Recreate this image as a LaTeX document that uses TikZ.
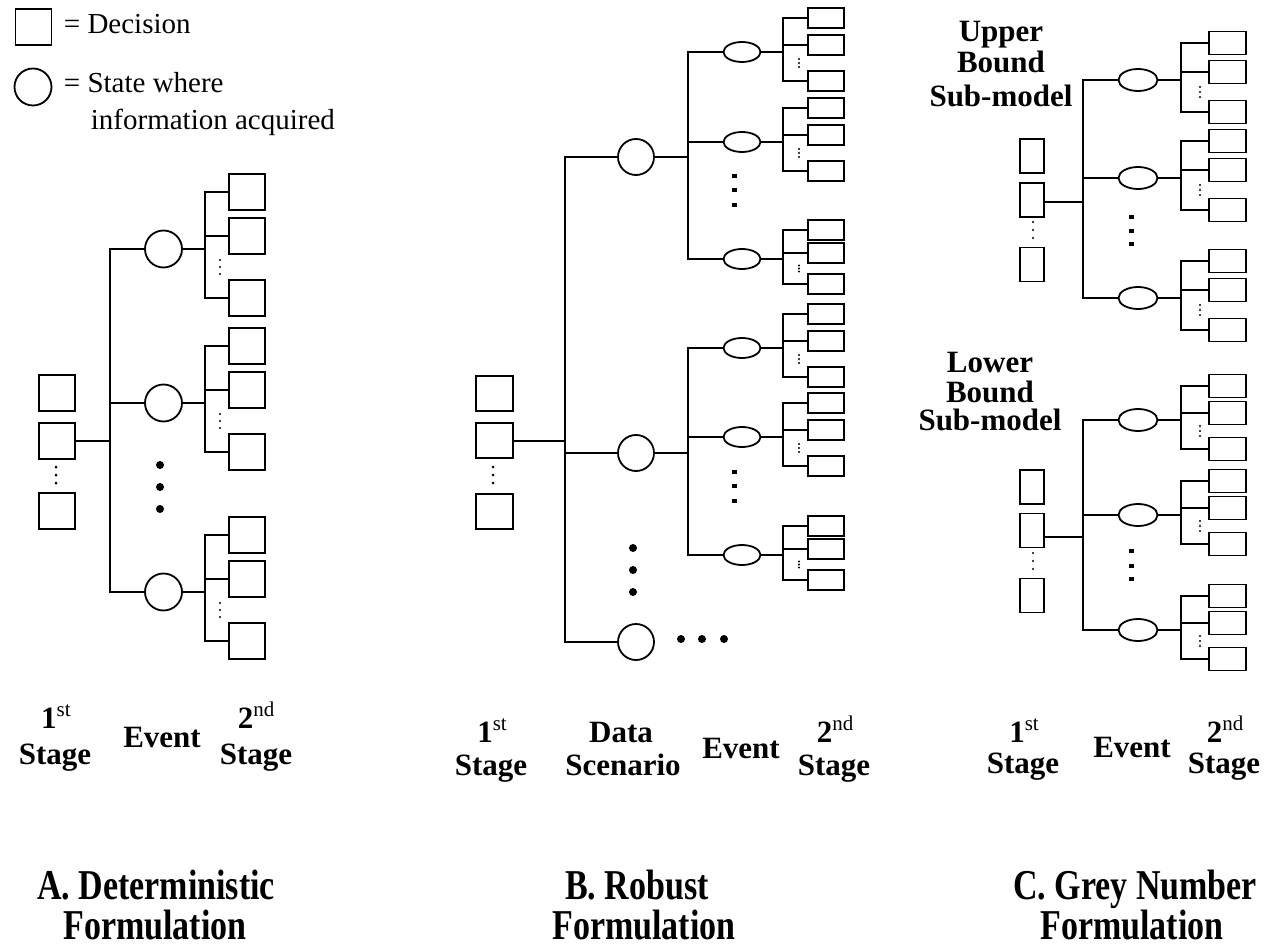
\documentclass[tikz,border=0pt]{standalone}
\usepackage{fontspec}
\setmainfont{Liberation Serif}
\usepackage{tikz}
\usetikzlibrary{calc}
\usetikzlibrary{positioning,shapes.geometric}

% event node, its bus and three 2nd stage decisions
% #1 name, #2 event style, #3 x, #4 y, #5 bus x, #6 leaf x, #7 leaf style, #8 spread, #9 dot step
\newcommand{\EventGroup}[9]{%
\node[#2] (#1) at (#3,#4) {};
\coordinate (#1-bus) at (#5,#4);
\node[#7] (#1-1) at (#6,#4-#8) {};
\node[#7] (#1-2) at (#6,{#4-round(0.22*#8)}) {};
\node[#7] (#1-3) at (#6,{#4+round(0.86*#8)}) {};
\draw (#1) -- (#1-bus);
\draw (#1-1.west) -| (#1-bus) |- (#1-3.west);
\draw (#1-2.west) -- (#1-2.west -| #1-bus);
\path (#1-2.south west) -- (#1-3.north west) coordinate[pos=.5] (#1-d);
\fill ($(#1-d)+(-8,-#9)$) circle (1.2) ($(#1-d)+(-8,0)$) circle (1.2) ($(#1-d)+(-8,#9)$) circle (1.2);
}
\newcommand{\DotCol}[4]{\fill (#1,#2-#3) circle (#4) (#1,#2) circle (#4) (#1,#2+#3) circle (#4)}
\newcommand{\SqDot}[2]{\fill (#1-2.5,#2-2) rectangle (#1+2.5,#2+2)}
\newcommand{\StageSup}[1]{\raisebox{0.36em}{\fontsize{21}{21}\selectfont\mdseries #1}}
\newcommand{\Tall}[1]{\scalebox{1}[1.25]{#1}}

\begin{document}
\begin{tikzpicture}[
x=1pt,y=-1pt,
line width=1.8pt,
MyBoxA/.style={draw,inner sep=0pt,minimum width=36pt,minimum height=36pt},
LeafA/.style={MyBoxA,anchor=west},
MyCircle/.style={draw,circle,inner sep=0pt,minimum size=37pt},
LeafB/.style={draw,inner sep=0pt,minimum width=36pt,minimum height=19.5pt,anchor=west},
MyOvalB/.style={draw,ellipse,inner sep=0pt,minimum width=37pt,minimum height=20pt},
FirstC/.style={draw,inner sep=0pt,minimum width=24pt,minimum height=34pt},
LeafC/.style={draw,inner sep=0pt,minimum width=37pt,minimum height=23pt,anchor=west},
MyOvalC/.style={draw,ellipse,inner sep=0pt,minimum width=39pt,minimum height=22pt},
LegendText/.style={font=\fontsize{29}{32}\selectfont,anchor=base west,inner sep=0pt},
StageText/.style={font=\fontsize{31}{36}\selectfont\bfseries,anchor=base,inner sep=0pt},
TitleText/.style={font=\fontsize{34}{40}\selectfont\bfseries,anchor=base,inner sep=0pt}
]
\useasboundingbox (0,0) rectangle (1268,949);

% bus positions of the three panels
\pgfmathparse{110}  \let\XbusA\pgfmathresult
\pgfmathparse{565}  \let\XbusB\pgfmathresult
\pgfmathparse{1083} \let\XbusC\pgfmathresult

% legend
\node[MyBoxA] (legBox) at (33.5,27) {};
\node[LegendText] (legDec) at (63,34) {= Decision};
\node[MyCircle] (legCirc) at (33,87) {};
\node[LegendText] (legState) at (63,93) {= State where};
\node[LegendText] (legInfo) at (90,130) {information acquired};

%%% A. deterministic
\node[MyBoxA] (A-s1) at (57,393) {};
\node[MyBoxA] (A-s2) at (57,441) {};
\node[MyBoxA] (A-s3) at (57,511) {};
\DotCol{56}{475}{8}{1.5};
\coordinate (A-bus) at (\XbusA,441);

\EventGroup{A-e1}{MyCircle}{163.5}{249}{205}{228}{LeafA}{57}{7}
\EventGroup{A-e2}{MyCircle}{163.5}{403}{205}{228}{LeafA}{57}{7}
\EventGroup{A-e3}{MyCircle}{163.5}{592}{205}{228}{LeafA}{57}{7}

\draw (A-s2.east |- A-bus) -- (A-bus);
\draw (A-e1) -| (A-bus) |- (A-e3);
\draw (A-e2) -- (A-e2 -| A-bus);
\DotCol{160}{487}{22}{4};

%%% B. robust
\node[MyBoxA,minimum width=37pt,minimum height=35pt] (B-s1) at (494.5,393.5) {};
\node[MyBoxA,minimum width=37pt,minimum height=35pt] (B-s2) at (494.5,440.5) {};
\node[MyBoxA,minimum width=37pt,minimum height=35pt] (B-s3) at (494.5,511.5) {};
\DotCol{493}{475}{8}{1.5};
\coordinate (B-bus) at (\XbusB,441);

% data scenarios
\node[MyCircle,minimum size=36pt] (B-d1) at (636,157) {};
\node[MyCircle,minimum size=36pt] (B-d2) at (636,453) {};
\node[MyCircle,minimum size=36pt] (B-d3) at (636,642) {};
\draw (B-s2.east |- B-bus) -- (B-bus);
\draw (B-d1) -| (B-bus) |- (B-d3);
\draw (B-d2) -- (B-d2 -| B-bus);
\DotCol{633}{570}{22}{4};
\fill (681,639) circle (4) (702,639) circle (4) (724,639) circle (4);

% events of the first scenario
\coordinate (B-d1-bus) at (688,157);
\EventGroup{B-d1-e1}{MyOvalB}{742}{52}{783}{807}{LeafB}{34}{4}
\EventGroup{B-d1-e2}{MyOvalB}{742}{142}{783}{807}{LeafB}{34}{4}
\EventGroup{B-d1-e3}{MyOvalB}{742}{259}{783}{807}{LeafB}{29}{3}
\draw (B-d1) -- (B-d1-bus);
\draw (B-d1-e1) -| (B-d1-bus) |- (B-d1-e3);
\draw (B-d1-e2) -- (B-d1-e2 -| B-d1-bus);
\SqDot{734}{176}; \SqDot{734}{190}; \SqDot{734}{205};

% events of the second scenario
\coordinate (B-d2-bus) at (688,453);
\EventGroup{B-d2-e1}{MyOvalB}{742}{348}{783}{807}{LeafB}{34}{4}
\EventGroup{B-d2-e2}{MyOvalB}{742}{437}{783}{807}{LeafB}{34}{4}
\EventGroup{B-d2-e3}{MyOvalB}{742}{555}{783}{807}{LeafB}{29}{3}
\draw (B-d2) -- (B-d2-bus);
\draw (B-d2-e1) -| (B-d2-bus) |- (B-d2-e3);
\draw (B-d2-e2) -- (B-d2-e2 -| B-d2-bus);
\SqDot{734}{472}; \SqDot{734}{486}; \SqDot{734}{501};

%%% C. grey number, upper bound
\node[FirstC] (CU-s1) at (1032,156) {};
\node[FirstC] (CU-s2) at (1032,200) {};
\node[FirstC] (CU-s3) at (1032,264.5) {};
\DotCol{1033}{230}{8}{1.1};
\coordinate (CU-bus) at (\XbusC,202);
\EventGroup{CU-e1}{MyOvalC}{1138}{80}{1181}{1208}{LeafC}{37}{5}
\EventGroup{CU-e2}{MyOvalC}{1138}{178}{1181}{1208}{LeafC}{37}{5}
\EventGroup{CU-e3}{MyOvalC}{1138}{298}{1181}{1208}{LeafC}{37}{5}
\draw (CU-s2.east |- CU-bus) -- (CU-bus);
\draw (CU-e1) -| (CU-bus) |- (CU-e3);
\draw (CU-e2) -- (CU-e2 -| CU-bus);
\SqDot{1131}{217}; \SqDot{1131}{231}; \SqDot{1131}{244};

%%% C. grey number, lower bound
\node[FirstC] (CL-s1) at (1032,487) {};
\node[FirstC] (CL-s2) at (1032,530.5) {};
\node[FirstC] (CL-s3) at (1032,595.5) {};
\DotCol{1033}{561}{8}{1.1};
\coordinate (CL-bus) at (\XbusC,537);
\EventGroup{CL-e1}{MyOvalC}{1138}{420}{1181}{1208}{LeafC}{34}{5}
\EventGroup{CL-e2}{MyOvalC}{1138}{515}{1181}{1208}{LeafC}{34}{5}
\EventGroup{CL-e3}{MyOvalC}{1138}{630}{1181}{1208}{LeafC}{34}{5}
\draw (CL-s2.east |- CL-bus) -- (CL-bus);
\draw (CL-e1) -| (CL-bus) |- (CL-e3);
\draw (CL-e2) -- (CL-e2 -| CL-bus);
\SqDot{1131}{551}; \SqDot{1131}{566}; \SqDot{1131}{579};

% sub-model names
\node[StageText] (upper1) at (1001,42) {Upper};
\node[StageText] (upper2) at (1001,73) {Bound};
\node[StageText] (upper3) at (1001,107) {Sub-model};
\node[StageText] (lower1) at (990,372) {Lower};
\node[StageText] (lower2) at (990,402) {Bound};
\node[StageText] (lower3) at (990,430) {Sub-model};

% stage labels
\node[StageText] (A-l1) at (56,728) {1\StageSup{st}};
\node[StageText] (A-l2) at (55,764) {Stage};
\node[StageText] (A-l3) at (162,747) {Event};
\node[StageText] (A-l4) at (256,728) {2\StageSup{nd}};
\node[StageText] (A-l5) at (256,764) {Stage};

\node[StageText] (B-l1) at (492,742) {1\StageSup{st}};
\node[StageText] (B-l2) at (491,775) {Stage};
\node[StageText] (B-l3) at (621,742) {Data};
\node[StageText] (B-l4) at (623,775) {Scenario};
\node[StageText] (B-l5) at (741,758) {Event};
\node[StageText] (B-l6) at (835,742) {2\StageSup{nd}};
\node[StageText] (B-l7) at (834,775) {Stage};

\node[StageText] (C-l1) at (1024,742) {1\StageSup{st}};
\node[StageText] (C-l2) at (1023,773) {Stage};
\node[StageText] (C-l3) at (1132,757) {Event};
\node[StageText] (C-l4) at (1225,742) {2\StageSup{nd}};
\node[StageText] (C-l5) at (1224,773) {Stage};

% titles
\node[TitleText] (A-t1) at (156,899) {\Tall{A. Deterministic}};
\node[TitleText] (A-t2) at (155,939) {\Tall{Formulation}};
\node[TitleText] (B-t1) at (637,899) {\Tall{B. Robust}};
\node[TitleText] (B-t2) at (644,939) {\Tall{Formulation}};
\node[TitleText] (C-t1) at (1135,899) {\Tall{C. Grey Number}};
\node[TitleText] (C-t2) at (1132,939) {\Tall{Formulation}};
\end{tikzpicture}
\end{document}
